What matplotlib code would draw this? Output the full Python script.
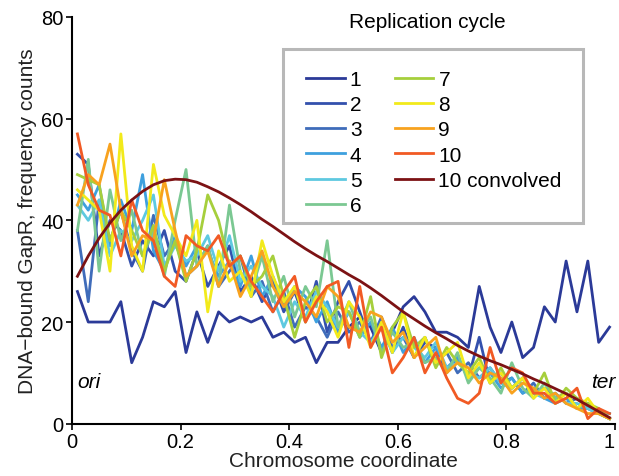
import numpy as np
import matplotlib
matplotlib.use('Agg')
import matplotlib.pyplot as plt
from matplotlib.patches import Rectangle

plt.rcParams['font.family'] = ['Liberation Sans', 'DejaVu Sans']

# chromosome coordinate of each bin
coord = [round(0.01 + 0.02 * i, 2) for i in range(50)]

cycle1 = [26, 20, 20, 20, 24, 12, 17, 24, 23, 26, 14, 22, 16, 22, 20, 21, 20, 21, 17, 18,
          16, 17, 12, 16, 16, 19, 21, 19, 14, 18, 23, 25, 22, 18, 18, 17, 15, 27, 19, 14,
          20, 13, 15, 23, 20, 32, 22, 32, 16, 19]
cycle2 = [53, 51, 33, 40, 38, 31, 36, 33, 38, 30, 28, 34, 27, 31, 35, 26, 29, 24, 28, 22,
          26, 20, 28, 18, 24, 28, 22, 16, 20, 14, 19, 13, 16, 15, 10, 13, 9, 17, 8, 10,
          7, 9, 6, 7, 5, 6, 3, 4, 2, 1]
cycle3 = [38, 24, 44, 36, 42, 34, 30, 41, 33, 36, 29, 31, 35, 27, 30, 33, 25, 28, 22, 26,
          19, 23, 21, 17, 22, 18, 20, 16, 21, 15, 17, 13, 17, 12, 14, 10, 12, 9, 11, 8,
          9, 6, 8, 5, 6, 4, 5, 3, 2, 1]
cycle4 = [45, 42, 47, 35, 44, 38, 49, 34, 30, 37, 31, 35, 34, 29, 32, 27, 33, 25, 29, 23,
          27, 25, 20, 24, 18, 22, 17, 20, 15, 19, 14, 17, 12, 15, 11, 13, 9, 11, 10, 7,
          9, 6, 7, 5, 4, 5, 3, 3, 2, 2]
cycle5 = [43, 40, 44, 33, 38, 36, 40, 45, 31, 35, 32, 33, 37, 30, 37, 28, 31, 27, 25, 19,
          24, 21, 26, 23, 19, 22, 18, 16, 19, 14, 17, 15, 13, 16, 11, 12, 10, 9, 11, 8,
          7, 9, 6, 5, 6, 4, 4, 3, 2, 2]
cycle6 = [38, 52, 30, 46, 36, 42, 33, 38, 29, 40, 50, 31, 35, 27, 43, 30, 26, 33, 24, 29,
          21, 27, 23, 36, 19, 24, 18, 21, 14, 18, 15, 16, 12, 13, 10, 14, 8, 11, 9, 6,
          12, 7, 5, 8, 5, 6, 3, 4, 2, 1]
cycle7 = [49, 48, 47, 36, 42, 38, 33, 39, 30, 36, 28, 34, 45, 40, 31, 33, 27, 29, 33, 25,
          17, 24, 27, 20, 23, 22, 17, 25, 13, 19, 22, 15, 17, 11, 15, 12, 10, 13, 8, 11,
          7, 9, 6, 10, 4, 7, 5, 4, 3, 1]
cycle8 = [46, 44, 42, 30, 57, 35, 30, 51, 41, 37, 33, 40, 22, 34, 28, 30, 25, 36, 29, 24,
          27, 20, 25, 22, 17, 24, 21, 15, 20, 14, 22, 13, 17, 12, 14, 16, 9, 12, 8, 10,
          7, 9, 5, 7, 4, 6, 3, 5, 2, 1]
cycle9 = [43, 49, 47, 55, 42, 33, 37, 36, 48, 38, 29, 31, 34, 27, 32, 25, 29, 34, 27, 23,
          26, 24, 21, 27, 25, 19, 18, 22, 21, 16, 18, 13, 15, 17, 10, 12, 11, 8, 10, 9,
          6, 8, 7, 5, 6, 4, 3, 2, 2, 1]
cycle10 = [57, 47, 42, 41, 33, 44, 38, 36, 29, 27, 37, 35, 34, 37, 31, 33, 28, 25, 22, 26,
           29, 20, 24, 27, 28, 15, 27, 15, 19, 10, 13, 17, 10, 14, 9, 5, 4, 6, 15, 8,
           11, 10, 6, 6, 4, 5, 7, 1, 3, 2]
convolved = [29, 33, 36.5, 39.5, 42, 44, 45.7, 47, 47.8, 48.1, 48, 47.5, 46.6, 45.6, 44.4,
             43.1, 41.7, 40.2, 38.8, 37.3, 35.8, 34.4, 33.1, 31.9, 30.6, 29.3, 28.1, 26.7,
             25.2, 23.6, 22.0, 20.6, 19.2, 17.9, 16.7, 15.4, 14.3, 13.3, 12.4, 11.6, 10.7,
             9.8, 8.8, 7.9, 6.9, 5.9, 4.8, 3.6, 2.4, 1.2]

series = [cycle1, cycle2, cycle3, cycle4, cycle5, cycle6, cycle7, cycle8, cycle9, cycle10]
labels = ['1', '2', '3', '4', '5', '6', '7', '8', '9', '10']
colors = ['#2b3a98', '#3350ad', '#3f6cba', '#3ea0de', '#5ec9e0', '#7bc892',
          '#a6cf3c', '#f2ea1b', '#f8a21e', '#f15a24']

fig = plt.figure(figsize=(6.19, 4.77), dpi=100)
ax = fig.add_axes([0.1163, 0.1096, 0.8772, 0.8527])

for s, lab, c in zip(series, labels, colors):
    ax.plot(coord, s, color=c, lw=2.0, label=lab)
ax.plot(coord, convolved, color='#7c1214', lw=2.0, label='10 convolved')

ax.set_xlim(0, 1)
ax.set_ylim(0, 80)
ax.set_xticks([0, 0.2, 0.4, 0.6, 0.8, 1])
ax.set_xticklabels(['0', '0.2', '0.4', '0.6', '0.8', '1'])
ax.set_yticks([0, 20, 40, 60, 80])
ax.spines['top'].set_visible(False)
ax.spines['right'].set_visible(False)
ax.spines['left'].set_linewidth(1.5)
ax.spines['bottom'].set_linewidth(1.5)
ax.tick_params(direction='out', length=4, width=1.2, labelsize=14.5, pad=2)
# keep the last tick label inside the figure
ax.get_xticklabels()[-1].set_horizontalalignment('right')

ax.set_xlabel('Chromosome coordinate', fontsize=15, color='#222222', labelpad=0)
ax.set_ylabel('DNA\u2212bound GapR, frequency counts', fontsize=15, color='#222222',
              labelpad=3)

ax.text(0.01, 7.3, 'ori', fontsize=15, style='italic')
ax.text(1.0, 7.3, 'ter', fontsize=15, style='italic', ha='right')

# legend frame drawn by hand, legend entries without their own frame
ax.add_patch(Rectangle((0.3886, 0.4935), 0.5524, 0.4278, transform=ax.transAxes,
                       facecolor='white', edgecolor='#b8b8b8', lw=2.2, zorder=5))
leg = ax.legend(ncol=2, loc='upper left', bbox_to_anchor=(0.431, 0.870),
                fontsize=15, frameon=False, handlelength=1.85,
                handletextpad=0.25, columnspacing=1.6, labelspacing=0.3,
                borderpad=0, borderaxespad=0)
leg.set_zorder(6)
ax.text(0.654, 0.99, 'Replication cycle', transform=ax.transAxes, fontsize=15,
        ha='center', va='center')

plt.savefig('out.png', dpi=100)
